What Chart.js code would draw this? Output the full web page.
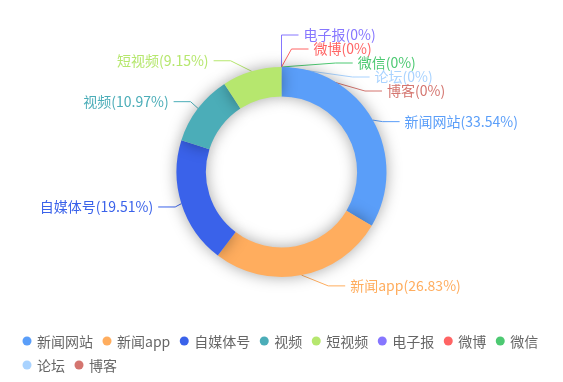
<!DOCTYPE html>
<html>
<head>
<meta charset="utf-8">
<script src="https://cdn.jsdelivr.net/npm/chart.js@4/dist/chart.umd.min.js"></script>
<style>
html,body{margin:0;padding:0;background:#fff;}
#wrap{width:563px;height:382px;position:relative;}
</style>
</head>
<body>
<div id="wrap"><canvas id="c" width="563" height="382"></canvas></div>
<script>
// ---- data ----
const categories = ['新闻网站','新闻app','自媒体号','视频','短视频','电子报','微博','微信','论坛','博客'];
const percents   = [33.54, 26.83, 19.51, 10.97, 9.15, 0, 0, 0, 0, 0];
const colors     = ['#5A9EF9','#FFAD5E','#3A62EA','#4BADB8','#B6E76E','#8676FF','#FF6464','#4DC972','#A9D3FF','#D4756F'];

// ---- style constants ----
const FONT = '14px "Noto Sans CJK SC", "Microsoft YaHei", sans-serif';
const LINE_LEN = 11, LINE_LEN2 = 17, LABEL_DIST = 5, LABEL_H = 14;
const LEGEND_X0 = 22.5, LEGEND_Y0 = 341, LEGEND_ROW = 24, LEGEND_R = 4.5, LEGEND_MAXX = 553, LEGEND_GAP = 10;

function labelText(i){ return categories[i] + '(' + String(percents[i]) + '%)'; }

function adjustSide(list, cx, cy, r, dir, viewH){
  const viewTop = 0;
  list.sort((a,b)=>a.y-b.y);
  function shiftUp(end, delta){
    for (let j=end;j>=0;j--){
      if (list[j].y - delta < viewTop) break;
      list[j].y -= delta;
      if (j>0 && list[j].y > list[j-1].y + list[j-1].height) break;
    }
  }
  function shiftDown(start, end, delta){
    for (let j=start;j<end;j++){
      if (list[j].y + delta > viewTop + viewH) break;
      list[j].y += delta;
      if (j > start && j + 1 < end && list[j+1].y > list[j].y + list[j].height){
        shiftUp(j, delta/2); return;
      }
    }
    shiftUp(end-1, delta/2);
  }
  function changeX(arr, isDown){
    let last = isDown ? Number.MAX_VALUE : 0;
    arr.forEach(it=>{
      const deltaY = Math.abs(it.y - cy);
      const R = r + LINE_LEN + LINE_LEN2;
      let deltaX = deltaY < r + LINE_LEN ? Math.sqrt(R*R - deltaY*deltaY) : Math.abs(it.x - cx);
      if (isDown && deltaX >= last) deltaX = last - 10;
      if (!isDown && deltaX <= last) deltaX = last + 10;
      it.x = cx + deltaX*dir;
      last = deltaX;
    });
  }
  let lastY = 0;
  for (let i=0;i<list.length;i++){
    const delta = list[i].y - lastY;
    if (delta < 0) shiftDown(i, list.length, -delta);
    lastY = list[i].y + list[i].height;
  }
  if (viewH - lastY < 0) shiftUp(list.length-1, lastY - viewH);
  const up=[], down=[];
  list.forEach(it=> (it.y >= cy ? down : up).push(it));
  changeX(up, false); changeX(down, true);
}

function layoutLabels(chart){
  const meta = chart.getDatasetMeta(0);
  const items = [];
  let cx=0, cy=0, r=0;
  meta.data.forEach((arc, i)=>{
    const p = arc.getProps(['x','y','startAngle','endAngle','outerRadius'], true);
    cx = p.x; cy = p.y; r = p.outerRadius;
    const mid = (p.startAngle + p.endAngle)/2;
    let dx = Math.cos(mid), dy = Math.sin(mid);
    if (Math.abs(dx) < 1e-9) dx = 0;
    const dir = dx < 0 ? -1 : 1;
    const x1 = cx + r*dx, y1 = cy + r*dy;
    const x2 = x1 + dx*LINE_LEN, y2 = y1 + dy*LINE_LEN;
    const x3 = x2 + dir*LINE_LEN2;
    items.push({i, dir, x: x3 + dir*LABEL_DIST, y: y2, height: LABEL_H,
      pts: [[x1,y1],[x2,y2],[x3,y2]], color: chart.data.datasets[0].backgroundColor[i]});
  });
  adjustSide(items.filter(t=>t.x >= cx), cx, cy, r, 1, chart.height);
  adjustSide(items.filter(t=>t.x < cx), cx, cy, r, -1, chart.height);
  items.forEach(t=>{
    const dist = t.pts[1][0] - t.pts[2][0];
    t.pts[2][0] = t.x - t.dir*LABEL_DIST;
    t.pts[1][0] = t.pts[2][0] + dist;
    t.pts[1][1] = t.pts[2][1] = t.y;
  });
  return items;
}

const outerLabels = {
  id: 'outerLabels',
  beforeDatasetsDraw(chart){
    const ctx = chart.ctx;
    chart.$labels = layoutLabels(chart);
    ctx.save();
    ctx.lineWidth = 1;
    chart.$labels.forEach(t=>{
      ctx.strokeStyle = t.color;
      ctx.beginPath();
      ctx.moveTo(t.pts[0][0], t.pts[0][1]);
      ctx.lineTo(t.pts[1][0], t.pts[1][1]);
      ctx.lineTo(t.pts[2][0], t.pts[2][1]);
      ctx.stroke();
    });
    ctx.restore();
    ctx.save();
    ctx.shadowColor = 'rgba(0,0,0,0.35)';
    ctx.shadowBlur = 15;
    ctx.shadowOffsetX = 0;
    ctx.shadowOffsetY = 0;
  },
  afterDatasetsDraw(chart){
    const ctx = chart.ctx;
    ctx.restore();
    ctx.save();
    ctx.font = FONT;
    ctx.textBaseline = 'middle';
    chart.$labels.forEach(t=>{
      ctx.fillStyle = t.color;
      ctx.textAlign = t.dir > 0 ? 'left' : 'right';
      ctx.fillText(labelText(t.i), t.x, t.y);
    });
    ctx.restore();
  }
};

const customLegend = {
  id: 'customLegend',
  afterDraw(chart){
    const ctx = chart.ctx;
    const ds = chart.data.datasets[0];
    ctx.save();
    ctx.font = FONT;
    ctx.textBaseline = 'middle';
    ctx.textAlign = 'left';
    let x = LEGEND_X0, y = LEGEND_Y0;
    chart.data.labels.forEach((lab, i)=>{
      const w = ctx.measureText(lab).width;
      const itemW = 2*LEGEND_R + 5 + w;
      if (x > LEGEND_X0 && x + itemW > LEGEND_MAXX){ x = LEGEND_X0; y += LEGEND_ROW; }
      ctx.fillStyle = ds.backgroundColor[i];
      ctx.beginPath();
      ctx.arc(x + LEGEND_R, y, LEGEND_R, 0, Math.PI*2);
      ctx.fill();
      ctx.fillStyle = '#666';
      ctx.fillText(lab, x + 2*LEGEND_R + 5.5, y + 0.5);
      x += itemW + LEGEND_GAP;
    });
    ctx.restore();
  }
};

new Chart(document.getElementById('c'), {
  type: 'doughnut',
  data: {
    labels: categories,
    datasets: [{
      data: percents,
      backgroundColor: colors,
      borderWidth: 0,
      hoverOffset: 0
    }]
  },
  options: {
    responsive: false,
    animation: false,
    devicePixelRatio: 1,
    cutout: '72%',
    events: [],
    layout: { padding: { top: 67, bottom: 105, left: 0, right: 0 } },
    plugins: { legend: { display: false }, tooltip: { enabled: false } }
  },
  plugins: [outerLabels, customLegend]
});
</script>
</body>
</html>
